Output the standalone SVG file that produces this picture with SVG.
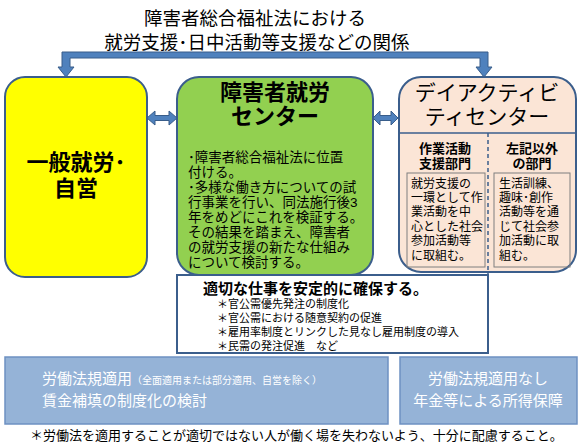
<svg xmlns="http://www.w3.org/2000/svg" width="580" height="444" viewBox="0 0 580 444">
<style>
text{font-family:"Liberation Sans","Noto Sans CJK JP",sans-serif;fill:#000}
.b{font-weight:bold}
.box{stroke:#3B5E8C;stroke-width:2}
.arr{fill:#4F81BD;stroke:#385D8A;stroke-width:1}
.w{fill:#fff}
.c{text-anchor:middle}
</style>
<rect width="580" height="444" fill="#fff"/>
<g id="title">
<text x="255" y="25" class="c" font-size="18.5">障害者総合福祉法における</text>
<text x="257" y="49" class="c" font-size="18.5">就労支援･日中活動等支援などの関係</text>
</g>
<g id="connectors">
<path class="arr" d="M62,52 H488 V67 H492 L484,77 L476,67 H480 V58 H70 V67 H74 L66,77 L58,67 H62 Z"/>
<path class="arr" d="M147,118 L155,111 V115.5 H169 V111 L177,118 L169,125 V120.5 H155 V125 Z"/>
<path class="arr" d="M373,118 L380,111 V115.5 H391 V111 L398,118 L391,125 V120.5 H380 V125 Z"/>
</g>
<g id="general">
<rect class="box" x="5" y="77" width="142" height="200" rx="20" fill="#FFFF00"/>
<text x="76" y="170" class="c b" font-size="22">一般就労･</text>
<text x="76" y="196" class="c b" font-size="22">自営</text>
</g>
<g id="center">
<rect class="box" x="177" y="77" width="196" height="198" rx="22" fill="#92D050"/>
<text x="275" y="100" class="c b" font-size="22">障害者就労</text>
<text x="275" y="124" class="c b" font-size="22">センター</text>
<g font-size="13.5">
<text x="188" y="162">･障害者総合福祉法に位置</text>
<text x="188" y="177">付ける。</text>
<text x="188" y="192">･多様な働き方についての試</text>
<text x="188" y="207">行事業を行い、同法施行後3</text>
<text x="188" y="222">年をめどにこれを検証する。</text>
<text x="188" y="237">その結果を踏まえ、障害者</text>
<text x="188" y="252">の就労支援の新たな仕組み</text>
<text x="188" y="267">について検討する。</text>
</g>
</g>
<g id="day">
<rect class="box" x="399" y="77" width="177" height="195" rx="22" fill="#FBE5D6"/>
<line x1="400" y1="133" x2="575" y2="133" stroke="#3B5E8C" stroke-width="1.5"/>
<line x1="488" y1="133" x2="488" y2="275" stroke="#3B5E8C" stroke-width="1.5" stroke-dasharray="4,3"/>
<text x="487" y="100" class="c" font-size="21">デイアクティビ</text>
<text x="487" y="124" class="c" font-size="21">ティセンター</text>
<text x="445" y="153" class="c b" font-size="13">作業活動</text>
<text x="445" y="168" class="c b" font-size="13">支援部門</text>
<text x="532" y="153" class="c b" font-size="13">左記以外</text>
<text x="532" y="168" class="c b" font-size="13">の部門</text>
<rect x="407" y="173" width="78" height="94" fill="none" stroke="#7F7F7F" stroke-width="1"/>
<rect x="494" y="173" width="76" height="94" fill="none" stroke="#7F7F7F" stroke-width="1"/>
<g font-size="12">
<text x="411" y="188">就労支援の</text>
<text x="411" y="202">一環として作</text>
<text x="411" y="216">業活動を中</text>
<text x="411" y="231">心とした社会</text>
<text x="411" y="245">参加活動等</text>
<text x="411" y="260">に取組む。</text>
<text x="499" y="188">生活訓練、</text>
<text x="499" y="202">趣味･創作</text>
<text x="499" y="216">活動等を通</text>
<text x="499" y="231">じて社会参</text>
<text x="499" y="245">加活動に取</text>
<text x="499" y="260">組む。</text>
</g>
</g>
<g id="secure">
<rect class="box" x="177" y="275" width="311" height="78" fill="#fff"/>
<text x="203" y="294" class="b" font-size="15">適切な仕事を安定的に確保する。</text>
<g font-size="11">
<text x="217" y="308">＊官公需優先発注の制度化</text>
<text x="217" y="322">＊官公需における随意契約の促進</text>
<text x="217" y="336">＊雇用率制度とリンクした見なし雇用制度の導入</text>
<text x="217" y="350">＊民需の発注促進　など</text>
</g>
</g>
<g id="labor">
<rect x="5" y="357" width="383" height="67" fill="#95B3D7" stroke="#6E91C2" stroke-width="1.5"/>
<text x="42" y="384" class="w" font-size="15">労働法規適用<tspan font-size="10">（全面適用または部分適用、自営を除く）</tspan></text>
<text x="42" y="406" class="w" font-size="15">賃金補填の制度化の検討</text>
</g>
<g id="pension">
<rect x="400" y="357" width="177" height="67" fill="#95B3D7" stroke="#6E91C2" stroke-width="1.5"/>
<text x="488" y="384" class="w c" font-size="15">労働法規適用なし</text>
<text x="488" y="406" class="w c" font-size="15">年金等による所得保障</text>
</g>
<g id="note">
<text x="30" y="440" font-size="13">＊労働法を適用することが適切ではない人が働く場を失わないよう、十分に配慮すること。</text>
</g>
</svg>
